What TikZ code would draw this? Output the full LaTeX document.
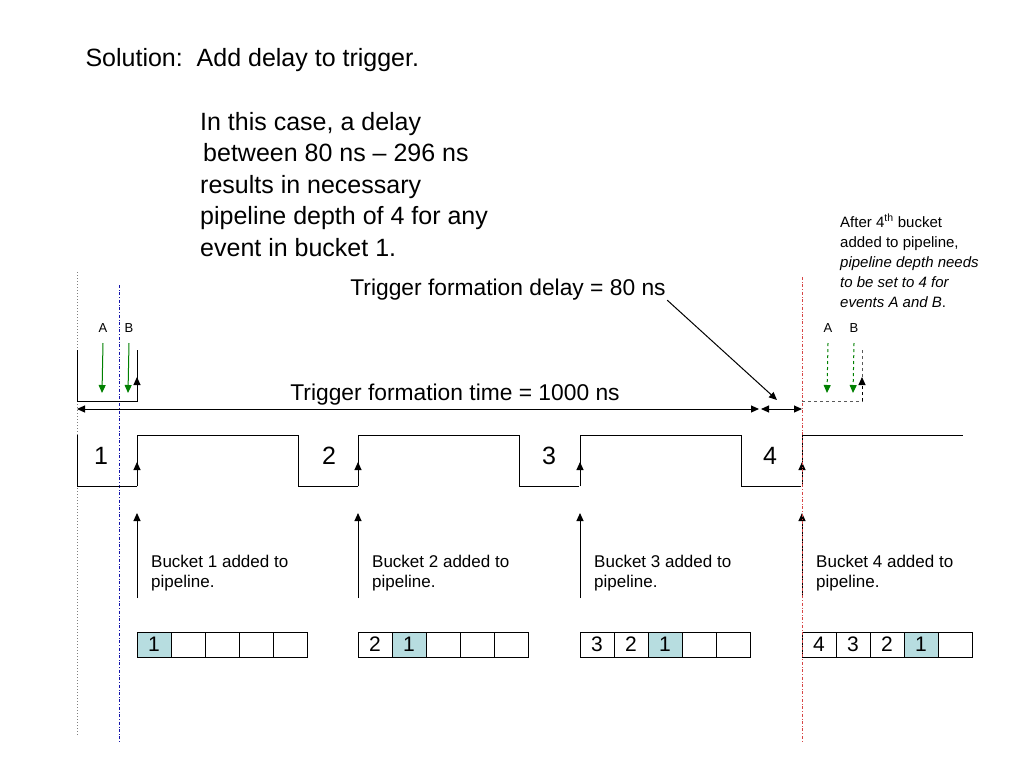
\documentclass[tikz,border=0pt]{standalone}
\usepackage{fontspec}
\setmainfont{Liberation Sans}
\setsansfont{Liberation Sans}
\usetikzlibrary{calc}
\usetikzlibrary{positioning}
\usetikzlibrary{arrows.meta}
\definecolor{cellblue}{RGB}{183,221,224}
\definecolor{eventgreen}{RGB}{0,128,0}
\definecolor{cutblue}{RGB}{20,20,170}
\definecolor{cutred}{RGB}{215,70,70}
\tikzset{every picture/.style={/utils/exec={\sffamily}}}
\tikzset{
  wave/.style={line width=1pt},
  cell/.style={draw, line width=0.8pt, minimum width=34pt, minimum height=25pt, inner sep=0pt, font=\fontsize{21}{21}\selectfont},
  event/.style={->, eventgreen, line width=1pt},
  big/.style={font=\fontsize{25}{31.5}\selectfont},
  mid/.style={font=\fontsize{22.8}{26}\selectfont},
  small/.style={font=\fontsize{17}{20}\selectfont},
}

\begin{document}
\begin{tikzpicture}[x=1pt, y=-1pt, >={Triangle[length=8pt,width=7pt]}]
  \useasboundingbox (0,0) rectangle (1024,768);

  \node [big, anchor=west] (title) at (82,60) {Solution:\ \ Add delay to trigger.};
  \node [big, anchor=north west, align=left, inner sep=0pt] (reason) at (200,112)
    {In this case, a delay\\\hspace{3pt}between 80 ns -- 296 ns\\results in necessary\\pipeline depth of 4 for any\\event in bucket 1.};

  \node [anchor=north west, align=left, inner sep=0pt, font=\fontsize{15}{20}\selectfont] (note) at (840,214)
    {After 4\textsuperscript{th} bucket\\added to pipeline,\\\textit{pipeline depth needs}\\\textit{to be set to 4 for}\\\textit{events A and B}.};

  \draw [gray, dotted, line width=1pt] (77,272) -- (77,735);
  \draw [cutblue, dash dot, line width=0.8pt] (119,285) -- (119,742);

  \draw [wave] (77,350) -- (77,401) -- (137,401) -- (137,350);
  \draw [wave, ->] (137,401) -- (137,377);

  \draw [wave, dashed, gray!70!black] (802,401) -- (862,401) -- (862,350);
  \draw [wave, ->, dashed, black] (862,401) -- (862,377);

  \foreach \e/\x/\s in {A/103/solid, B/129/solid, A/828/dashed, B/854/dashed} {
    \node [font=\fontsize{13}{13}\selectfont] (ev\e\x) at (\x,328) {\e};
    \draw [event, \s] ([yshift=-7pt]ev\e\x.south) -- ++(-1,50);
  }

  \draw [wave] (77,435) -- (77,486) -- (137,486);
  \foreach \r in {137,358,580} {
    \draw [wave] (\r,486) -- (\r,435) -- (\r+161,435) -- (\r+161,486) -- (\r+221,486);
  }
  \draw [wave] (802,486) -- (802,435) -- (963,435);

  \foreach \i/\r/\c in {1/101/137, 2/329/358, 3/549/580, 4/770/802} {
    \node [big] (clk\i) at (\r,456) {\i};
    \draw [wave, ->] (\c,486) -- (\c,462);
    \coordinate (foot\i) at (\c,598);
    \coordinate (head\i) at (\c,513);
    \draw [wave, ->] (foot\i) -- (head\i);
    \node [small, anchor=north west, align=left, inner sep=0pt] (added\i) at (\c+14,555)
      {Bucket \i{} added to\\pipeline.};
    \foreach \k in {1,...,5} {
      \pgfmathtruncatemacro{\v}{\i-\k+1}
      \ifnum\k=\i
        \node [cell, fill=cellblue] (pipe\i-\k) at (\c+34*\k-17,644.5) {\v};
      \else\ifnum\k<\i
        \node [cell] (pipe\i-\k) at (\c+34*\k-17,644.5) {\v};
      \else
        \node [cell] (pipe\i-\k) at (\c+34*\k-17,644.5) {};
      \fi\fi
    }
  }

  \draw [cutred, dash dot, line width=0.9pt] (802,277) -- (802,742);

  \coordinate (tstart) at (77,409);
  \coordinate (tend) at (759,409);
  \coordinate (dstart) at (761,409);
  \coordinate (dend) at (802,409);
  \draw [wave, <->] (tstart) -- (tend);
  \draw [wave, <->] (dstart) -- (dend);
  \node [mid] (formtime) at (455,395) {Trigger formation time = 1000 ns};

  \node [mid] (formdelay) at (508,290) {Trigger formation delay = 80 ns};
  \coordinate (delaytip) at (777,400);
  \draw [wave, ->] ([xshift=-2pt,yshift=4pt]formdelay.south east) -- (delaytip);
\end{tikzpicture}
\end{document}
